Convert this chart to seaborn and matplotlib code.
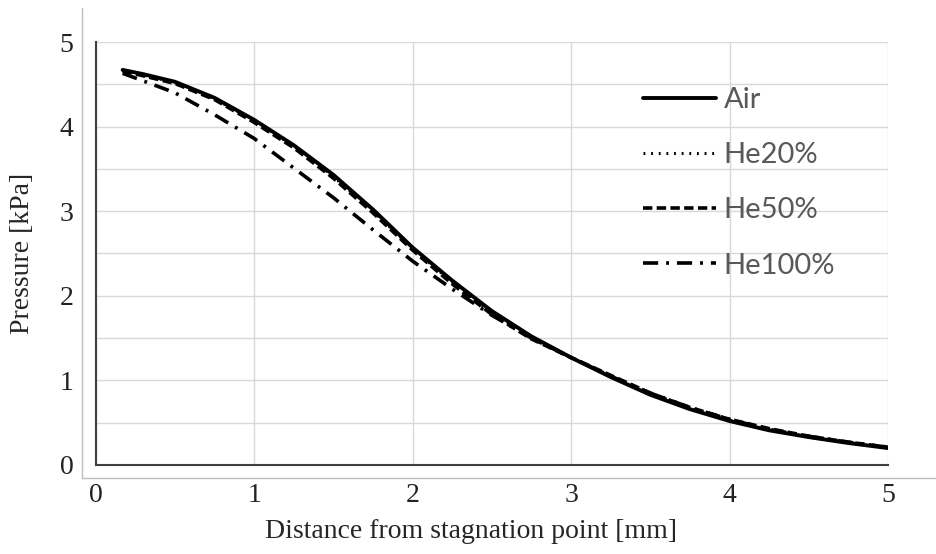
import matplotlib
matplotlib.use("Agg")
import matplotlib.pyplot as plt
from matplotlib.lines import Line2D
import seaborn as sns
import pandas as pd

x_mm = [0.17, 0.3, 0.5, 0.75, 1.0, 1.25, 1.5, 1.75, 2.0, 2.25, 2.5, 2.75,
        3.0, 3.25, 3.5, 3.75, 4.0, 4.25, 4.5, 4.75, 5.0]
air = [4.67, 4.62, 4.53, 4.34, 4.08, 3.78, 3.43, 3.02, 2.57, 2.18, 1.82, 1.52,
       1.27, 1.04, 0.83, 0.66, 0.52, 0.41, 0.33, 0.26, 0.20]
he20 = [4.66, 4.61, 4.52, 4.33, 4.07, 3.77, 3.41, 3.00, 2.56, 2.16, 1.80, 1.50,
        1.27, 1.05, 0.84, 0.67, 0.53, 0.42, 0.33, 0.26, 0.20]
he50 = [4.66, 4.60, 4.51, 4.32, 4.05, 3.75, 3.39, 2.98, 2.54, 2.14, 1.78, 1.49,
        1.27, 1.06, 0.85, 0.68, 0.54, 0.43, 0.34, 0.27, 0.21]
he100 = [4.63, 4.54, 4.40, 4.14, 3.86, 3.51, 3.16, 2.78, 2.41, 2.08, 1.77, 1.50,
         1.27, 1.05, 0.85, 0.68, 0.54, 0.42, 0.34, 0.27, 0.21]
series_names = ["Air", "He20%", "He50%", "He100%"]
tick_vals = [0, 1, 2, 3, 4, 5]

sns.set_style("white")
plt.rcParams['font.family'] = ['Liberation Serif', 'DejaVu Serif']

fig = plt.figure(figsize=(9.37, 5.54), dpi=100)
ax = fig.add_axes([95.7 / 937, 1 - 465 / 554, (888 - 95.7) / 937, (465 - 42) / 554])

styles = {
    "Air": dict(linestyle='-', linewidth=2.8),
    "He20%": dict(linestyle=(0, (0.6, 1.9)), linewidth=2.2),
    "He50%": dict(linestyle=(0, (2.6, 1.2)), linewidth=2.6),
    "He100%": dict(linestyle=(0, (4.2, 2.2, 0.8, 2.2)), linewidth=2.6),
}
data = {"Air": air, "He20%": he20, "He50%": he50, "He100%": he100}
for name in series_names:
    df = pd.DataFrame({"x": x_mm, "y": data[name]})
    sns.lineplot(data=df, x="x", y="y", ax=ax, color="black", label=name,
                 **styles[name])

ax.set_xlim(0, 5)
ax.set_ylim(0, 5)
ax.set_xticks(tick_vals)
ax.set_yticks(tick_vals)
ax.set_yticks([0.5, 1.5, 2.5, 3.5, 4.5], minor=True)
ax.grid(True, which='both', axis='y', color='#d9d9d9', linewidth=1.0)
ax.grid(True, which='major', axis='x', color='#d9d9d9', linewidth=1.0)
ax.tick_params(axis='both', which='both', length=0, labelsize=20, colors='#222222')
ax.tick_params(axis='x', pad=13)
ax.tick_params(axis='y', pad=16)
for s in ['top', 'right']:
    ax.spines[s].set_visible(False)
for s in ['left', 'bottom']:
    ax.spines[s].set_color('#404040')
    ax.spines[s].set_linewidth(1.5)
ax.set_xlabel("Distance from stagnation point [mm]", fontsize=20)
ax.set_ylabel("Pressure [kPa]", fontsize=20)
ax.xaxis.set_label_coords((471.5 - 95.7) / 792.3, -(532 - 465) / 423, transform=ax.transAxes)
ax.xaxis.label.set_va('center')
ax.yaxis.set_label_coords(-(95.7 - 23) / 792.3, 0.5, transform=ax.transAxes)
ax.yaxis.label.set_va('center')

leg = ax.legend(loc='upper left', bbox_to_anchor=((643 - 95.7) / 792.3, (465 - 87) / 423),
                frameon=False, handlelength=2.5, handletextpad=0.27,
                labelspacing=1.0, borderpad=0, borderaxespad=0,
                prop={'family': ['Lato', 'DejaVu Sans'], 'size': 21})
for t in leg.get_texts():
    t.set_color('#595959')

# outer frame lines
fig.add_artist(Line2D([82 / 937, 82 / 937], [1 - 8 / 554, 1 - 478 / 554],
                      color='#bfbfbf', linewidth=1.0, transform=fig.transFigure))
fig.add_artist(Line2D([82 / 937, 1.0], [1 - 478 / 554, 1 - 478 / 554],
                      color='#bfbfbf', linewidth=1.0, transform=fig.transFigure))

fig.savefig("out.png", dpi=100)
